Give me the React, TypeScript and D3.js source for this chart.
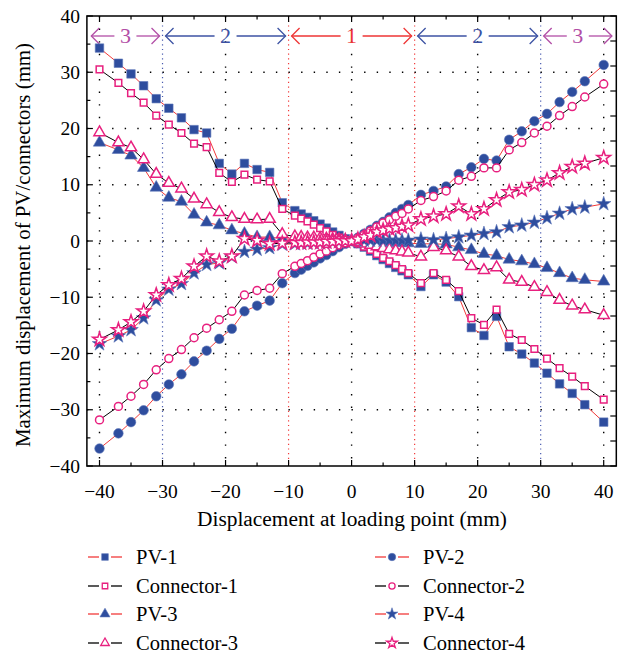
import React from "react";
import * as d3 from "d3";

const X = [-40,-37,-35,-33,-31,-29,-27,-25,-23,-21,-19,-17,-15,-13,-11,-9,-8,-7,-6,-5,-4,-3,-2,-1,0,1,2,3,4,5,6,7,8,9,11,13,15,17,19,21,23,25,27,29,31,33,35,37,40];

const PV1 = [34.3,31.6,29.7,27.6,25.3,23.6,21.9,19.8,19.2,13.8,11.9,13.8,12.7,12.2,6.8,5.4,4.8,4.2,3.6,3.0,2.3,1.6,1.0,0.4,0,-0.5,-1.1,-1.8,-2.6,-3.3,-4.0,-4.7,-5.3,-6.0,-8.1,-6.0,-7.3,-9.9,-15.4,-16.8,-13.4,-18.8,-20.1,-21.7,-23.5,-25.4,-27.1,-29.1,-32.2];
const CON1 = [30.5,28.1,26.3,24.6,22.3,20.7,19.2,17.3,16.7,12.1,10.5,11.8,10.9,10.6,5.7,4.5,4.0,3.5,2.9,2.3,1.7,1.1,0.6,0.2,0,-0.4,-1.0,-1.6,-2.3,-3.0,-3.6,-4.3,-5.0,-5.7,-7.5,-5.7,-6.9,-8.9,-13.7,-14.9,-12.2,-16.5,-17.6,-19.2,-20.9,-22.6,-24.1,-25.8,-28.2];
const PV2 = [-36.9,-34.2,-32.2,-30.1,-27.6,-25.5,-23.7,-21.4,-19.5,-17.4,-15.6,-12.5,-11.5,-10.6,-7.5,-5.7,-5.1,-4.4,-3.8,-3.1,-2.5,-1.8,-1.1,-0.5,0,0.6,1.3,2.0,2.7,3.4,4.2,5.0,5.7,6.4,8.2,8.9,9.7,11.9,13.1,14.6,14.3,18.0,19.5,21.3,22.6,24.7,26.5,28.4,31.3];
const CON2 = [-31.8,-29.4,-27.6,-25.5,-22.9,-20.9,-19.3,-17.2,-15.5,-14.0,-12.5,-9.6,-8.8,-8.4,-5.8,-4.5,-4.0,-3.5,-2.9,-2.3,-1.8,-1.2,-0.7,-0.3,0,0.5,1.1,1.8,2.5,3.2,3.8,4.4,4.9,5.7,7.2,7.9,8.9,10.8,11.5,13.0,13.0,16.2,17.5,19.2,20.4,22.3,23.9,25.6,27.9];
const PV3 = [17.5,16.2,15.2,13.0,9.5,7.7,7.0,4.7,3.3,2.8,1.9,1.3,0.7,0.7,0.4,0.3,0.3,0.2,0.2,0.2,0.1,0.1,0.1,0,0,-0.1,-0.1,-0.2,-0.2,-0.2,-0.3,-0.3,-0.3,-0.4,-0.5,-0.5,-0.6,-1.1,-1.6,-2.3,-2.6,-3.3,-3.6,-4.1,-4.8,-5.7,-6.6,-6.9,-7.2];
const CON3 = [19.3,17.5,16.6,14.5,11.9,10.3,9.3,7.5,6.5,5.1,4.2,3.9,3.8,3.9,1.2,0.8,0.7,0.6,0.6,0.5,0.4,0.3,0.2,0.1,0,-0.2,-0.5,-0.7,-1.0,-1.3,-1.5,-1.7,-1.9,-2.1,-2.8,-1.1,-1.7,-2.8,-4.5,-5.2,-4.7,-6.9,-7.3,-8.2,-9.1,-10.5,-11.5,-12.2,-13.2];
const PV4 = [-18.3,-16.9,-15.8,-13.7,-10.5,-8.6,-7.6,-5.7,-4.2,-3.9,-2.8,-1.9,-1.5,-1.2,-0.6,-0.5,-0.4,-0.4,-0.3,-0.3,-0.2,-0.2,-0.1,0,0,0.1,0.1,0.1,0.1,0.1,0.1,0.1,0.1,0.1,0.3,0.2,0.4,0.7,1.0,1.3,1.6,2.5,2.8,3.3,4.1,4.9,5.7,6.0,6.6];
const CON4 = [-17.5,-15.8,-14.4,-12.5,-9.6,-7.8,-6.7,-4.5,-2.7,-3.6,-2.7,0.4,0.1,-0.5,-0.4,-0.3,-0.3,-0.2,-0.2,-0.2,-0.1,-0.1,0,0,0,0.3,0.7,1.0,1.6,1.9,2.2,2.3,2.6,2.8,3.9,4.4,4.8,6.2,4.8,5.7,7.3,8.7,9.1,10.0,10.8,12.1,13.2,13.8,14.8];

const X_TICKS = [-40, -30, -20, -10, 0, 10, 20, 30, 40];
const Y_TICKS = [-40, -30, -20, -10, 0, 10, 20, 30, 40];

const BLUE = "#2e4d9e";
const PINK = "#e8207f";
const RED = "#f23a3a";

type Series = { name: string; values: number[]; kind: "pv" | "con"; sym: d3.SymbolType; size: number; legendSize: number };

const SERIES: Series[] = [
  { name: "PV-1", values: PV1, kind: "pv", sym: d3.symbolSquare, size: 72, legendSize: 44 },
  { name: "Connector-1", values: CON1, kind: "con", sym: d3.symbolSquare, size: 44, legendSize: 30 },
  { name: "PV-3", values: PV3, kind: "pv", sym: d3.symbolTriangle, size: 66, legendSize: 44 },
  { name: "Connector-3", values: CON3, kind: "con", sym: d3.symbolTriangle, size: 54, legendSize: 32 },
  { name: "PV-2", values: PV2, kind: "pv", sym: d3.symbolCircle, size: 72, legendSize: 44 },
  { name: "Connector-2", values: CON2, kind: "con", sym: d3.symbolCircle, size: 50, legendSize: 30 },
  { name: "PV-4", values: PV4, kind: "pv", sym: d3.symbolStar, size: 66, legendSize: 44 },
  { name: "Connector-4", values: CON4, kind: "con", sym: d3.symbolStar, size: 58, legendSize: 36 },
];

const FONT = "Liberation Serif, DejaVu Serif, serif";

export default function App() {
  const x = d3.scaleLinear().domain([-40, 40]).range([99.5, 603.7]);
  const y = d3.scaleLinear().domain([-40, 40]).range([466, 16]);
  const left = x(-42), right = x(42), top = y(40), bottom = y(-40);

  const line = d3.line<number>().x((_, i) => x(X[i])).y((v) => y(v));

  const minorX = d3.range(-40, 41, 5);
  const minorY = d3.range(-40, 41, 5);
  const rightTicks = d3.range(0, 19).map((i) => -40 + (i * 80) / 18);

  const gridColor = (v: number) => (Math.abs(v) === 10 ? RED : Math.abs(v) === 30 ? "#4a5cb0" : "#000");

  const regions = [
    { a: -41.3, b: -30, label: "3", color: "#b24ea6" },
    { a: -30, b: -10, label: "2", color: "#3c52a3" },
    { a: -10, b: 10, label: "1", color: "#ee3535" },
    { a: 10, b: 30, label: "2", color: "#3c52a3" },
    { a: 30, b: 41.3, label: "3", color: "#b24ea6" },
  ];
  const ay = 36;

  const legendRows = [557, 586, 614, 643];
  const fmt = (v: number) => (v < 0 ? "\u2212" + Math.abs(v) : String(v));
  const ts = { fontFamily: FONT };

  return (
    <svg width={623} height={654} style={{ position: "absolute", left: 0, top: 0, background: "#fff", fontFamily: FONT }}>
      {/* grid */}
      {X_TICKS.map((v) => {
        const c = gridColor(v);
        const dense = Math.abs(v) === 10 || Math.abs(v) === 30;
        return (
          <line key={"gx" + v} x1={x(v)} x2={x(v)} y1={top} y2={bottom} stroke={c}
            strokeWidth={dense ? 1.2 : 1.4} strokeDasharray={dense ? "1.2 3.5" : "1.4 11.2"} />
        );
      })}
      {Y_TICKS.filter((v) => Math.abs(v) < 40).map((v) => (
        <line key={"gy" + v} x1={left} x2={right} y1={y(v)} y2={y(v)} stroke="#000" strokeWidth={1.4} strokeDasharray="1.4 11.2" />
      ))}

      {/* region annotations */}
      {regions.map((r, i) => {
        const x1 = x(r.a) + (r.a === -41.3 ? 0 : 3);
        const x2 = x(r.b) - (r.b === 41.3 ? 0 : 3);
        const cx = (x1 + x2) / 2;
        const gap = 11;
        return (
          <g key={"rg" + i} stroke={r.color} strokeWidth={1.3} fill="none">
            <line x1={x1} x2={cx - gap} y1={ay} y2={ay} />
            <line x1={cx + gap} x2={x2} y1={ay} y2={ay} />
            <polyline points={`${x1 + 8},${ay - 8} ${x1},${ay} ${x1 + 8},${ay + 8}`} />
            <polyline points={`${x2 - 8},${ay - 8} ${x2},${ay} ${x2 - 8},${ay + 8}`} />
            <text x={cx} y={ay + 7} fill={r.color} stroke="none" fontSize={22} textAnchor="middle" style={ts}>{r.label}</text>
          </g>
        );
      })}

      {/* series */}
      {SERIES.map((s) => (
        <g key={s.name}>
          <path d={line(s.values) || ""} fill="none" stroke={s.kind === "pv" ? RED : "#000"} strokeWidth={1} />
          {s.values.map((v, i) => (
            <path key={i} transform={`translate(${x(X[i])},${y(v)})`} d={d3.symbol(s.sym, s.size)() || ""}
              fill={s.kind === "pv" ? BLUE : "#fff"} stroke={s.kind === "pv" ? "#5c76b8" : PINK}
              strokeWidth={s.kind === "pv" ? 0.6 : 1.5} />
          ))}
        </g>
      ))}

      {/* frame */}
      <rect x={left} y={top} width={right - left} height={bottom - top} fill="none" stroke="#000" strokeWidth={1.5} />

      {/* ticks */}
      {minorX.map((v) => {
        const len = v % 10 === 0 ? 6 : 3.5;
        return (
          <g key={"tx" + v} stroke="#000" strokeWidth={1.2}>
            <line x1={x(v)} x2={x(v)} y1={bottom} y2={bottom - len} />
            <line x1={x(v)} x2={x(v)} y1={top} y2={top + len} />
          </g>
        );
      })}
      {minorY.map((v) => {
        const len = v % 10 === 0 ? 6 : 3.5;
        return <line key={"ty" + v} x1={left} x2={left + len} y1={y(v)} y2={y(v)} stroke="#000" strokeWidth={1.2} />;
      })}
      {rightTicks.map((v, i) => (
        <line key={"tr" + i} x1={right} x2={right - 6} y1={y(v)} y2={y(v)} stroke="#000" strokeWidth={1.2} />
      ))}

      {/* tick labels */}
      {X_TICKS.map((v) => (
        <text key={"lx" + v} x={x(v)} y={498} fontSize={19.5} textAnchor="middle" style={ts}>{fmt(v)}</text>
      ))}
      {Y_TICKS.map((v) => (
        <text key={"ly" + v} x={80} y={y(v) + 6.5} fontSize={19.5} textAnchor="end" style={ts}>{fmt(v)}</text>
      ))}

      {/* axis titles */}
      <text x={352} y={526} fontSize={20} textAnchor="middle" textLength={310} lengthAdjust="spacingAndGlyphs" style={ts}>Displacement at loading point (mm)</text>
      <text transform={`translate(30,${245}) rotate(-90)`} fontSize={20} textAnchor="middle" textLength={404} lengthAdjust="spacingAndGlyphs" style={ts}>Maximum displacement of PV/connectors (mm)</text>

      {/* legend */}
      {SERIES.map((s, i) => {
        const col = Math.floor(i / 4);
        const row = i % 4;
        const lx = col === 0 ? 88 : 375;
        const ly = legendRows[row];
        const c = s.kind === "pv" ? RED : "#000";
        return (
          <g key={"lg" + s.name}>
            <line x1={lx} x2={lx + 11} y1={ly} y2={ly} stroke={c} strokeWidth={1.3} />
            <line x1={lx + 23} x2={lx + 34} y1={ly} y2={ly} stroke={c} strokeWidth={1.3} />
            <path transform={`translate(${lx + 17},${ly})`} d={d3.symbol(s.sym, s.legendSize)() || ""}
              fill={s.kind === "pv" ? BLUE : "#fff"} stroke={s.kind === "pv" ? "#5c76b8" : PINK} strokeWidth={s.kind === "pv" ? 0.6 : 1.3} />
            <text x={lx + 48} y={ly + 6.5} fontSize={20.5} style={ts}>{s.name}</text>
          </g>
        );
      })}
    </svg>
  );
}
